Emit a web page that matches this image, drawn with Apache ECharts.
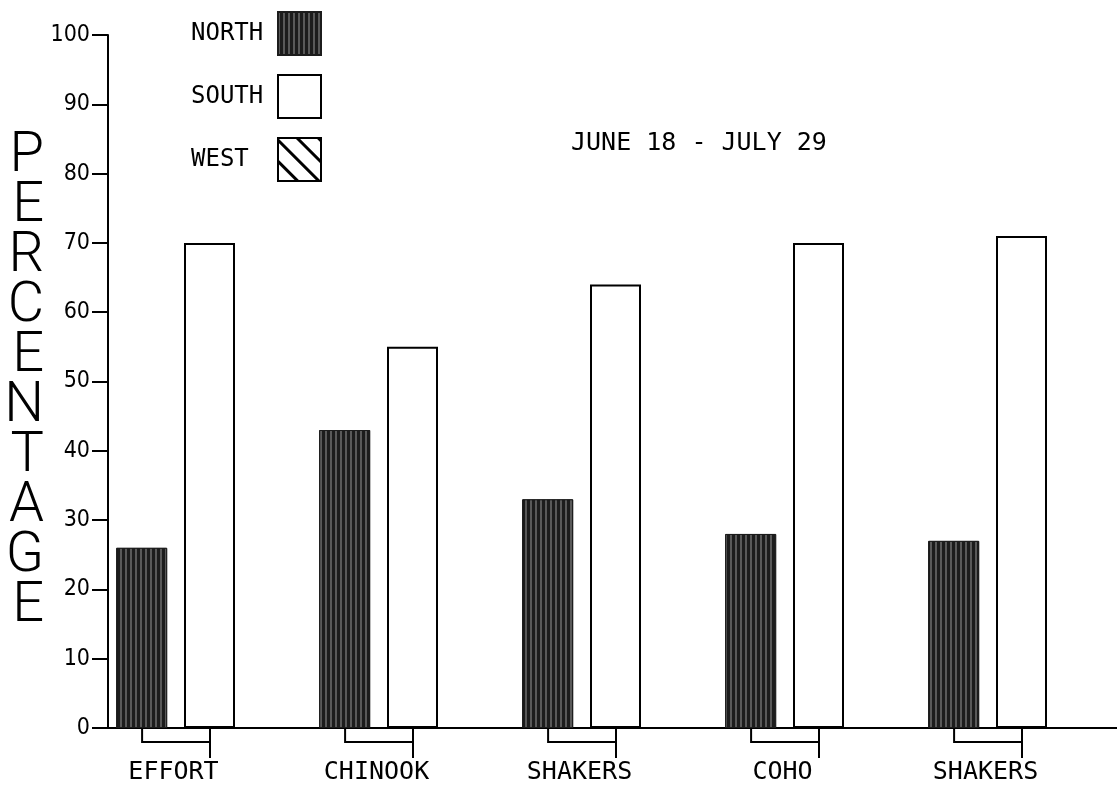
<!DOCTYPE html>
<html><head><meta charset="utf-8">
<script src="https://cdn.jsdelivr.net/npm/echarts/dist/echarts.min.js"></script>
<style>html,body{margin:0;padding:0;background:#fff}#c{width:1117px;height:787px}</style>
</head><body><div id="c"></div>
<script>
const categories = ['EFFORT', 'CHINOOK', 'SHAKERS', 'COHO', 'SHAKERS'];
const north = [26, 43, 33, 28, 27];
const south = [70, 55, 64, 70, 71];
const west = [0, 0, 0, 0, 0];
const seriesNames = ['NORTH', 'SOUTH', 'WEST'];
const subtitle = 'JUNE 18 - JULY 29';
const yName = 'PERCENTAGE';

const mono = '"DejaVu Sans Mono", monospace';
const cond = '"DejaVu Sans Condensed", "DejaVu Sans Mono", sans-serif';
const chart = echarts.init(document.getElementById('c'), null, {renderer: 'canvas'});
chart.setOption({
  backgroundColor: '#fff',
  animation: false,
  title: {
    text: subtitle, left: 566, top: 126,
    textStyle: {fontFamily: mono, fontSize: 25, fontWeight: 'normal', color: '#000'}
  },
  legend: {
    data: seriesNames,
    icon: 'rect',
    orient: 'vertical', align: 'right',
    left: 186, top: 6,
    itemWidth: 43, itemHeight: 43, itemGap: 18,
    formatter: n => '{a|' + n + '}',
    textStyle: {
      rich: {a: {fontFamily: mono, fontSize: 24, color: '#000', width: 82, align: 'left'}}
    }
  },
  grid: {left: 108, top: 35, bottom: 59, width: 1015, outerBoundsMode: 'none', containLabel: false},
  xAxis: {
    type: 'category', data: categories,
    axisLine: {lineStyle: {color: '#000', width: 2}},
    axisTick: {show: true, alignWithLabel: true, length: 30, lineStyle: {color: '#000', width: 2}},
    axisLabel: {margin: 32, fontFamily: mono, fontSize: 25, color: '#000', padding: [0, 72, 0, 0]}
  },
  yAxis: {
    type: 'value', min: 0, max: 100, interval: 10,
    name: yName.split('').join('\n'),
    nameLocation: 'middle', nameRotate: 0, nameGap: 64,
    nameTextStyle: {fontFamily: 'Roboto, sans-serif', fontWeight: 300, fontSize: 56, lineHeight: 50, color: '#000'},
    splitLine: {show: false},
    axisLine: {show: true, lineStyle: {color: '#000', width: 2}},
    axisTick: {show: true, length: 16, lineStyle: {color: '#000', width: 2}},
    axisLabel: {margin: 18, fontFamily: cond, fontSize: 23, color: '#000'}
  },
  series: [
    {
      name: 'NORTH', type: 'bar', data: north, barWidth: 51, barGap: '33%',
      itemStyle: {
        color: '#1c1c1c', borderColor: '#1c1c1c', borderWidth: 1,
        decal: {symbol: 'rect', symbolSize: 1, dashArrayX: [2, 3], dashArrayY: [10, 0], color: 'rgba(150,150,150,0.5)', rotation: 0}
      }
    },
    {
      name: 'SOUTH', type: 'bar', data: south, barWidth: 51,
      itemStyle: {color: '#fff', borderColor: '#000', borderWidth: 2}
    },
    {
      name: 'WEST', type: 'bar', data: west, barWidth: 51,
      itemStyle: {
        color: '#fff', borderColor: '#000', borderWidth: 2,
        decal: {symbol: 'rect', symbolSize: 1, dashArrayX: [10, 0], dashArrayY: [2.5, 12], color: '#000', rotation: Math.PI / 4}
      }
    },
    {
      type: 'custom', silent: true, clip: false, z: 5,
      data: categories.map((c, i) => [i, 0]),
      encode: {x: 0, y: 1},
      renderItem: function (params, api) {
        const p = api.coord([api.value(0), 0]);
        const bw = api.size([1, 0])[0];
        const xn = p[0] - bw * 0.332;
        return {
          type: 'polyline',
          shape: {points: [[xn, p[1]], [xn, p[1] + 14], [p[0], p[1] + 14]]},
          style: {stroke: '#000', lineWidth: 2, fill: null}
        };
      }
    }
  ]
});
</script></body></html>
